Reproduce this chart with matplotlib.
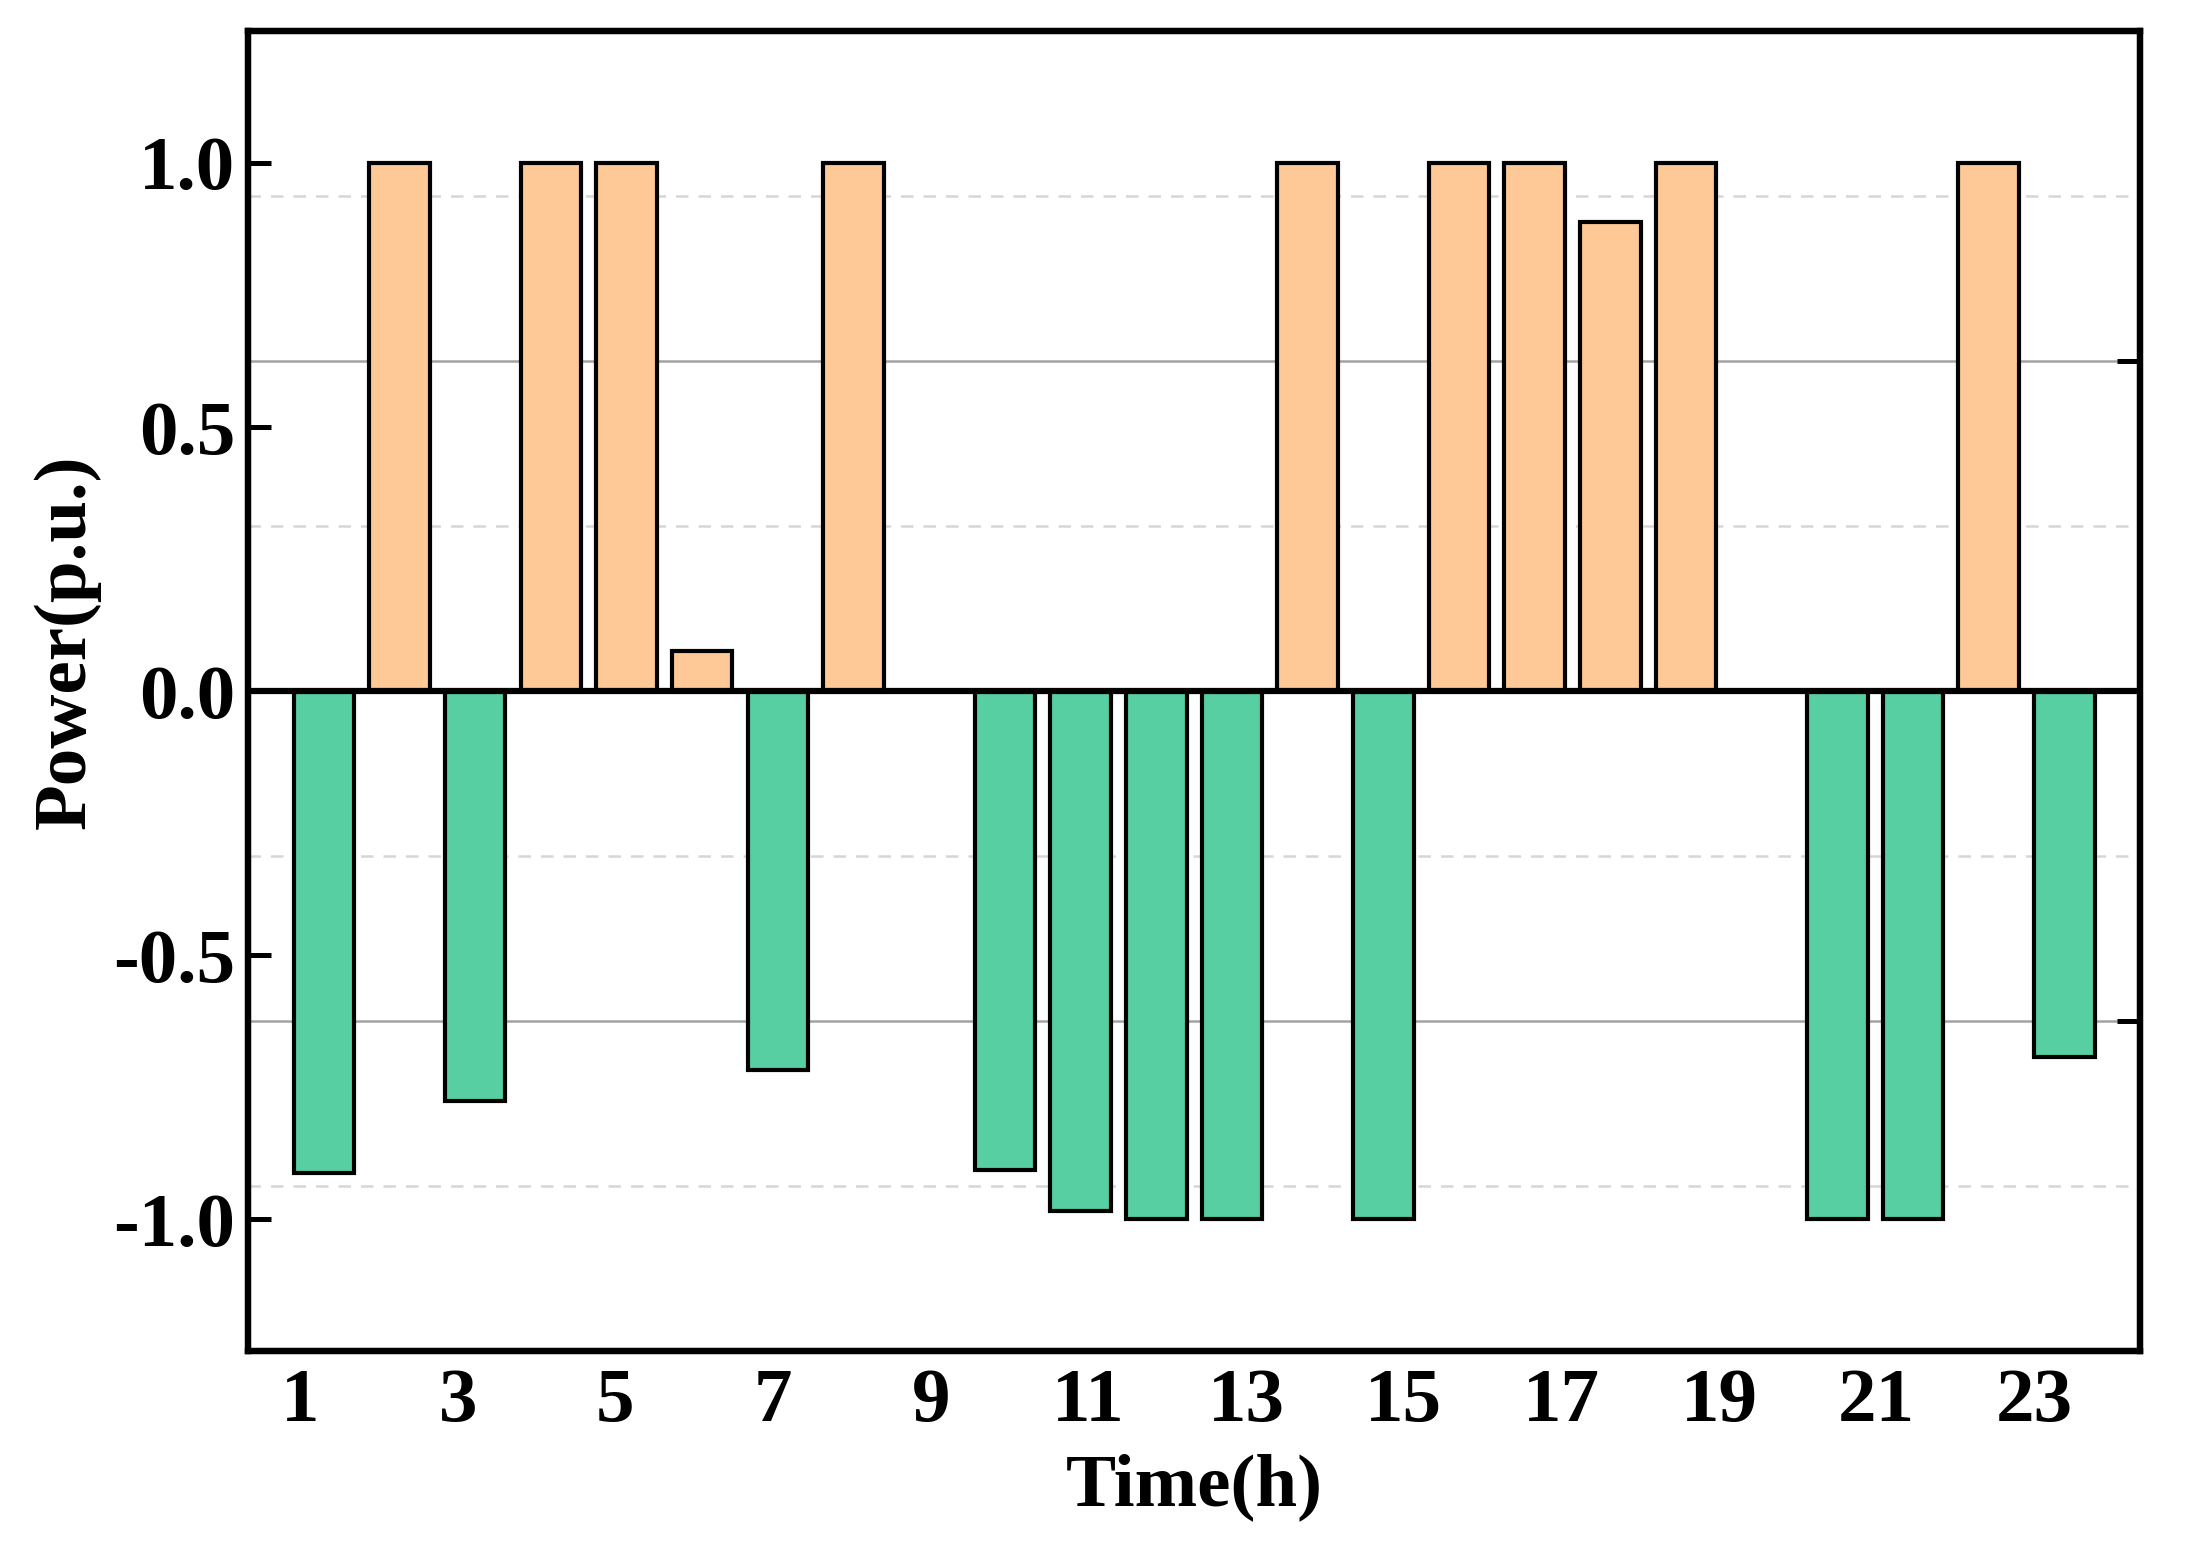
import matplotlib.pyplot as plt
import numpy as np

hours = np.arange(1, 25)
charge = [0, 1.0, 0, 1.0, 1.0, 0.075, 0, 1.0, 0, 0, 0, 0,
          0, 1.0, 0, 1.0, 1.0, 0.888, 1.0, 0, 0, 0, 1.0, 0]
discharge = [-0.912, 0, -0.777, 0, 0, 0, -0.718, 0, 0, -0.906, -0.985, -1.0,
             -1.0, 0, -1.0, 0, 0, 0, 0, 0, -1.0, -1.0, 0, -0.692]
tick_hours = np.arange(1, 24, 2)

plt.rcParams['font.family'] = 'Liberation Serif'
plt.rcParams['font.weight'] = 'bold'
plt.rcParams['axes.unicode_minus'] = False

fig = plt.figure(figsize=(2186 / 300, 1546 / 300), dpi=300)
ax = fig.add_axes([0.1135, 0.126, 0.979 - 0.1135, 0.980 - 0.126])

# background reference lines (right-hand scale)
for yv in [0.625, -0.625]:
    ax.axhline(yv, color='#a3a3a3', lw=0.6, zorder=0)
for yv in [0.9375, 0.3125, -0.3125, -0.9375]:
    ax.axhline(yv, color='#d6d6d6', lw=0.6, ls=(0, (5, 4)), zorder=0)

ax.bar(hours, charge, width=0.8, color='#fec997', edgecolor='black', lw=1.0, zorder=2)
ax.bar(hours, discharge, width=0.8, color='#57cfa2', edgecolor='black', lw=1.0, zorder=2)
ax.axhline(0, color='black', lw=1.5, zorder=3)

ax.set_xlim(0, 25)
ax.set_ylim(-1.25, 1.25)
ax.set_xticks((tick_hours - 0.34) * 25 / 24)
ax.set_xticklabels([str(h) for h in tick_hours])
ax.set_yticks([-1.0, -0.5, 0.0, 0.5, 1.0])
ax.set_yticklabels(['-1.0', '-0.5', '0.0', '0.5', '1.0'])
ax.tick_params(axis='x', length=0, labelsize=18.5, pad=4)
ax.tick_params(axis='y', direction='in', length=5.5, width=1.2, labelsize=18.5, pad=3)

ax2 = ax.twinx()
ax2.set_ylim(-1.25, 1.25)
ax2.set_yticks([-0.625, 0.625])
ax2.set_yticklabels([])
ax2.tick_params(axis='y', direction='in', length=5.5, width=1.2)

for a in (ax, ax2):
    for s in a.spines.values():
        s.set_linewidth(1.5)

ax.set_xlabel('Time(h)', fontsize=18, fontweight='bold', labelpad=4)
ax.set_ylabel('Power(p.u.)', fontsize=18, fontweight='bold')
ax.yaxis.set_label_coords(-0.078, 0.537)

fig.savefig('out.png', dpi=300)
